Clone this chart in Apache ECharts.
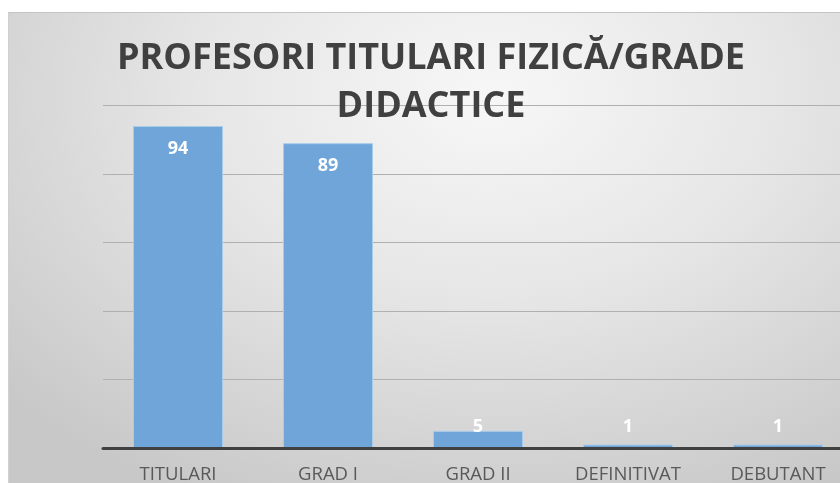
<!DOCTYPE html>
<html>
<head>
<meta charset="utf-8">
<script src="https://cdn.jsdelivr.net/npm/echarts@6/dist/echarts.min.js"></script>
<style>
  html, body { margin: 0; padding: 0; background: #fff; overflow: hidden; }
  #chart {
    position: absolute; left: 8px; top: 12px; width: 860px; height: 471px;
    border-top: 1px solid #c4c4c4; border-left: 1px solid #d0d0d0; box-sizing: border-box;
    background: radial-gradient(ellipse 75% 95% at 56% 18%, #f7f7f7 0%, #e6e6e6 45%, #d3d3d3 80%, #c8c8c8 100%);
  }
</style>
</head>
<body>
<div id="chart"></div>
<script>
// categorii si valori
var categories = ['TITULARI', 'GRAD I', 'GRAD II', 'DEFINITIVAT', 'DEBUTANT'];
var values = [94, 89, 5, 1, 1];
var titleText = 'PROFESORI TITULARI FIZICĂ/GRADE\nDIDACTICE';

var chart = echarts.init(document.getElementById('chart'));

var seriesData = values.map(function (v) {
  // etichete mici puse deasupra axei, cele mari in interiorul barei
  if (v < 20) {
    return { value: v, label: { position: 'insideBottom', distance: 12 } };
  }
  return { value: v, label: { position: 'insideTop', distance: 14 } };
});

var option = {
  backgroundColor: 'transparent',
  animation: false,
  title: {
    text: titleText,
    left: 422,
    textAlign: 'center',
    top: 22,
    padding: 0,
    textStyle: {
      fontFamily: 'Open Sans',
      fontWeight: 'bold',
      fontSize: 36,
      lineHeight: 48,
      color: '#404040'
    }
  },
  grid: {
    left: 94,
    top: 92.5,
    width: 750,
    height: 342.5,
    containLabel: false,
    outerBoundsMode: 'none'
  },
  xAxis: {
    type: 'category',
    data: categories,
    z: 5,
    axisLine: { lineStyle: { color: '#404040', width: 3 } },
    axisTick: { show: false },
    axisLabel: {
      margin: 17,
      fontFamily: 'Open Sans',
      fontSize: 18.5,
      color: '#595959'
    }
  },
  yAxis: {
    type: 'value',
    min: 0,
    max: 100,
    interval: 20,
    axisLine: { show: false },
    axisTick: { show: false },
    axisLabel: { show: false },
    splitLine: { lineStyle: { color: '#b0b0b0', width: 1 } }
  },
  series: [{
    type: 'bar',
    data: seriesData,
    barCategoryGap: '40%',
    itemStyle: {
      color: '#6fa5d8',
      borderColor: '#a8cbea',
      borderWidth: 1
    },
    label: {
      show: true,
      fontFamily: 'Open Sans',
      fontWeight: 'bold',
      fontSize: 18,
      color: '#ffffff'
    }
  }]
};

chart.setOption(option);
</script>
</body>
</html>
